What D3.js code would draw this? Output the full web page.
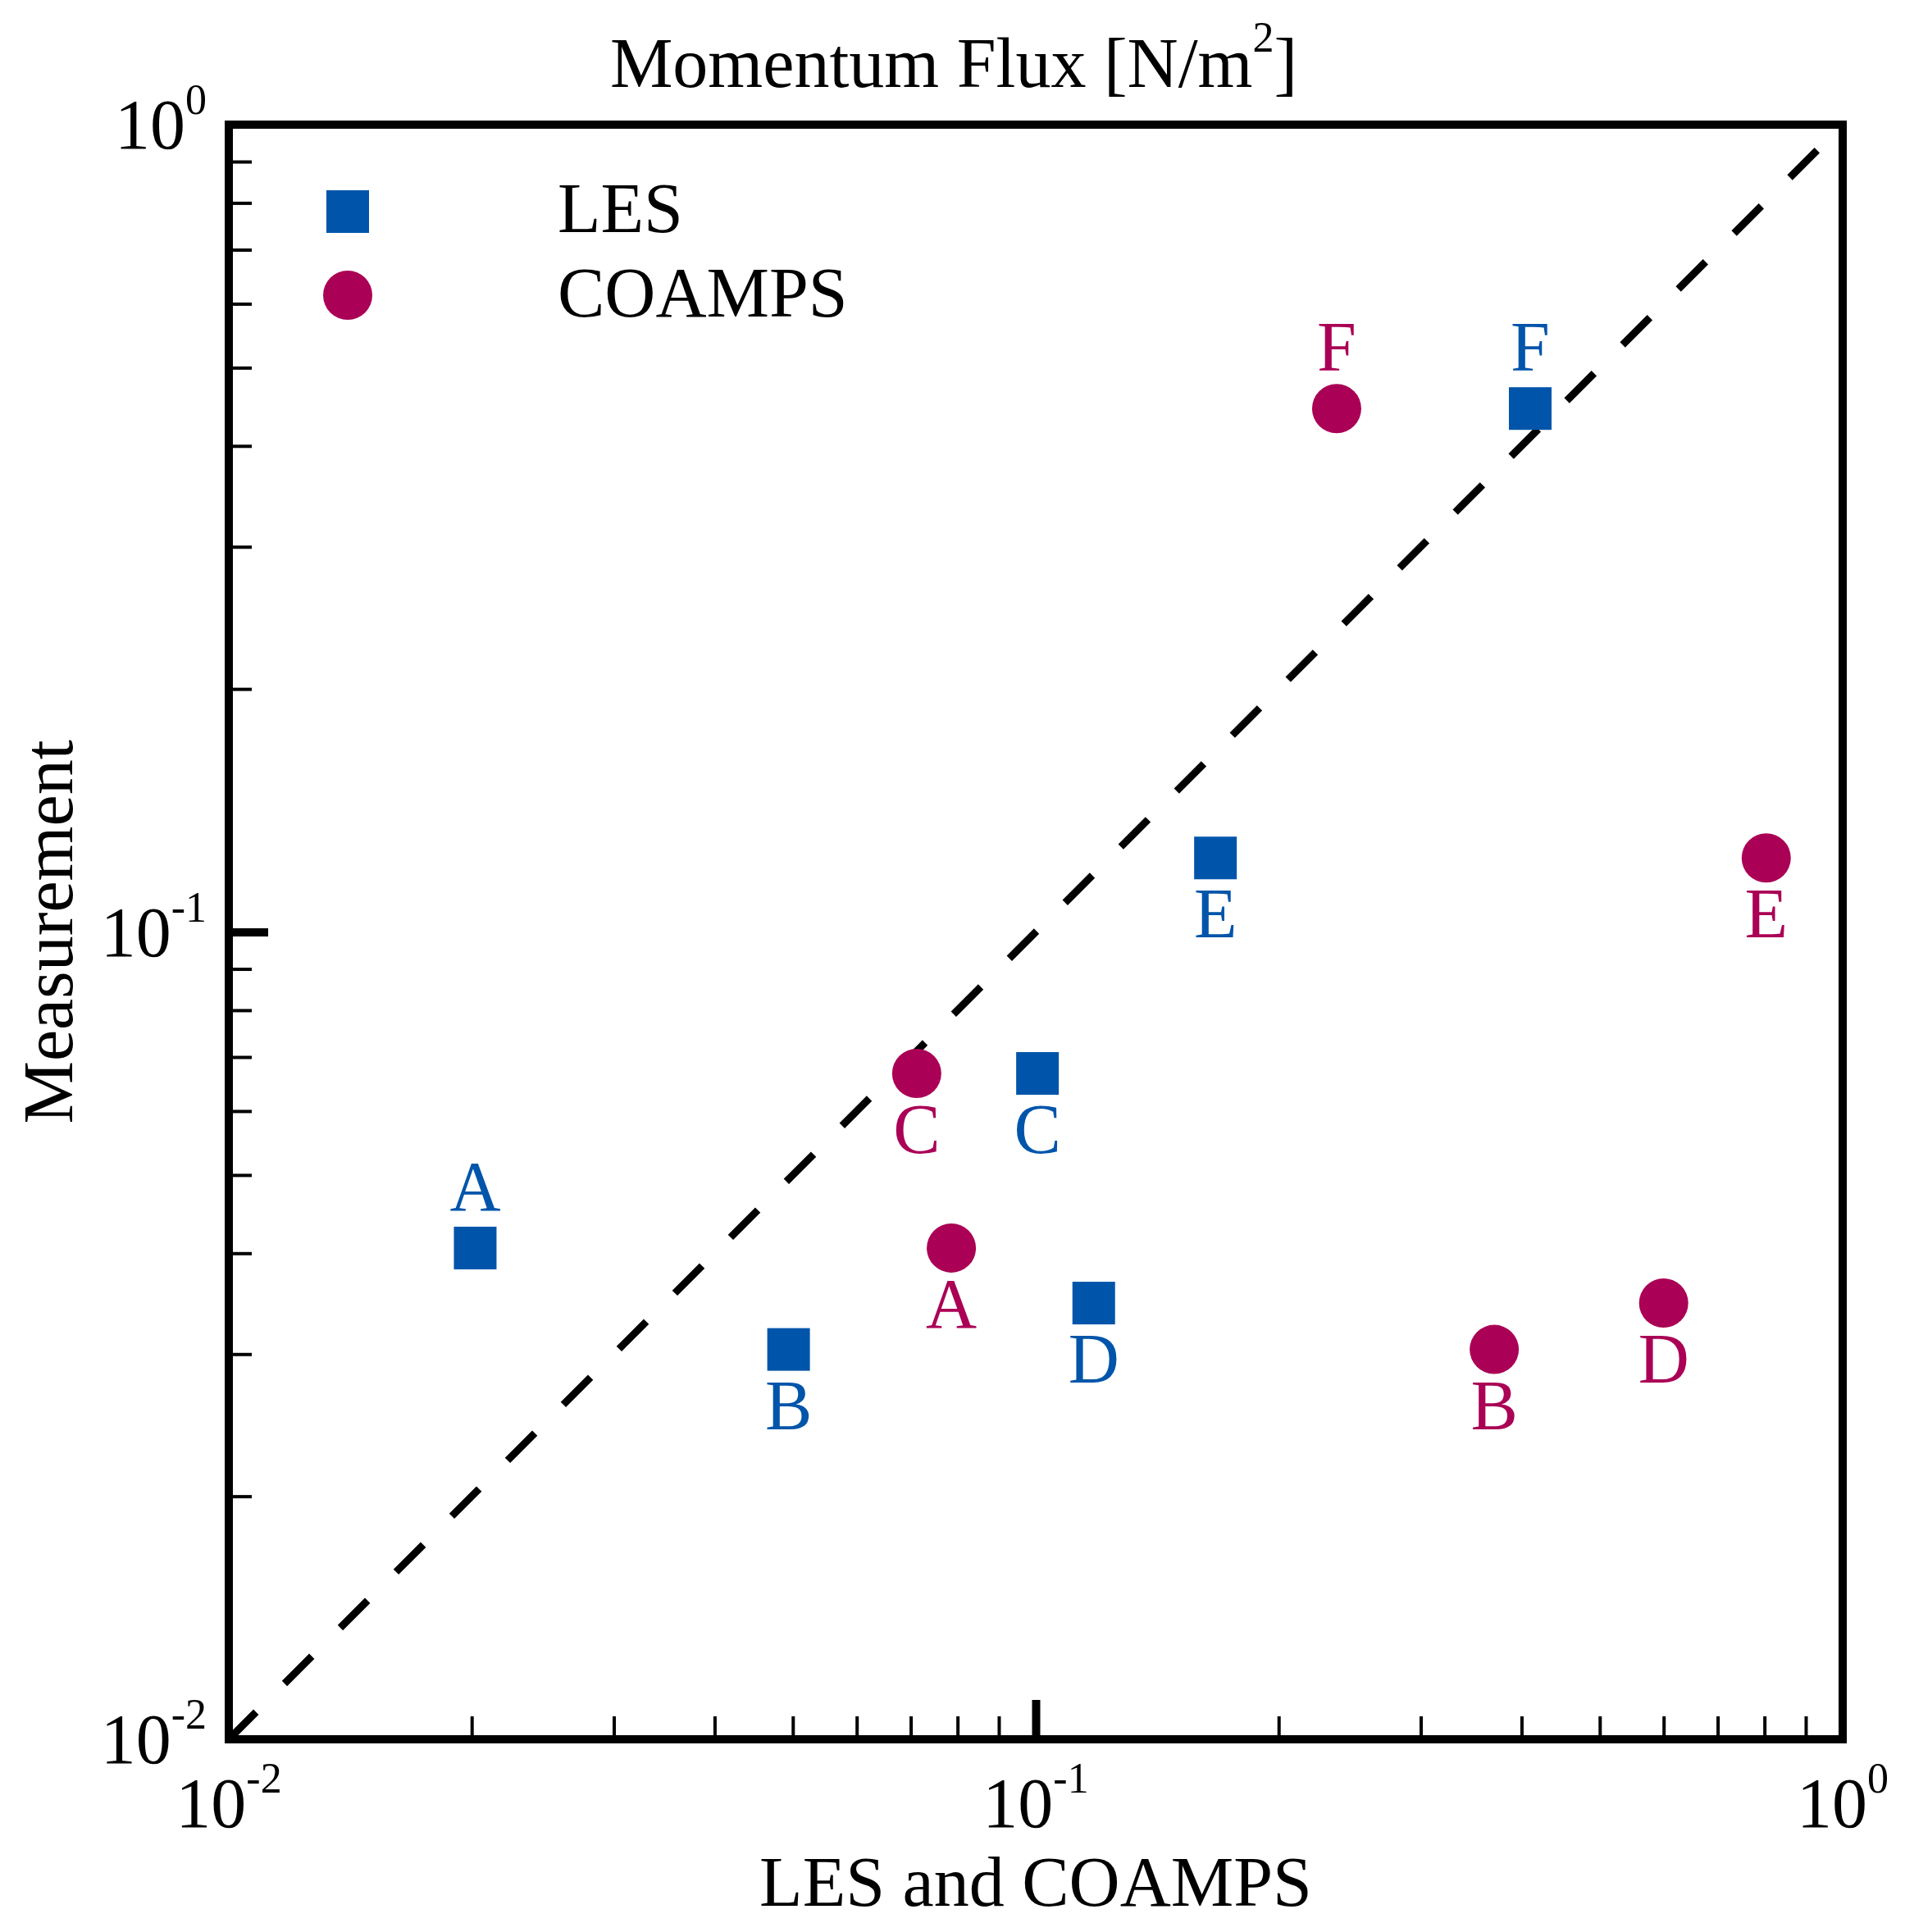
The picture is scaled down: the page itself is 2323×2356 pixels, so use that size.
<!DOCTYPE html>
<html>
<head>
<meta charset="utf-8">
<script src="https://cdn.jsdelivr.net/npm/d3@7"></script>
<style>
  body { margin: 0; background: #fff; }
  text { font-family: "Liberation Serif", "Times New Roman", serif; }
</style>
</head>
<body>
<div id="vis"></div>
<script>
// cases and values
const cases = ["A", "B", "C", "D", "E", "F"];
const measurement = [0.0406, 0.0304, 0.0668, 0.0347, 0.1235, 0.445];
const lesValues = [0.0202, 0.0494, 0.1005, 0.118, 0.167, 0.41];
const coampsValues = [0.0786, 0.370, 0.0712, 0.600, 0.804, 0.236];
const lesLabelSide = ["above", "below", "below", "below", "below", "above"];
const coampsLabelSide = ["below", "below", "below", "below", "below", "above"];

const majorTicks = [0.01, 0.1, 1];
const tickExponents = ["-2", "-1", "0"];
const minorTicks = [0.02, 0.03, 0.04, 0.05, 0.06, 0.07, 0.08, 0.09,
                    0.2, 0.3, 0.4, 0.5, 0.6, 0.7, 0.8, 0.9];

const seriesNames = ["LES", "COAMPS"];
const BLUE = "#0055AA";
const PURPLE = "#AA0055";

const FRAME_WIDTH = 2323;
const FRAME_HEIGHT = 2356;
const PLOT = {left: 279, right: 2247, top: 152, bottom: 2121};
const FONT = 86;
const SUP = 52;

const svg = d3.select("#vis")
    .append("svg")
        .attr("width", FRAME_WIDTH)
        .attr("height", FRAME_HEIGHT);

const X_SCALE = d3.scaleLog().domain([0.01, 1]).range([PLOT.left, PLOT.right]);
const Y_SCALE = d3.scaleLog().domain([0.01, 1]).range([PLOT.bottom, PLOT.top]);

// minor + major ticks pointing inward
function tickAxis(axis, translate, size, width) {
    const g = svg.append("g")
        .attr("transform", translate)
        .call(axis.tickSize(size).tickFormat(""));
    g.select(".domain").remove();
    g.selectAll(".tick line").attr("stroke", "#000").attr("stroke-width", width);
}
tickAxis(d3.axisBottom(X_SCALE).tickValues(minorTicks), "translate(0," + PLOT.bottom + ")", -28, 4);
tickAxis(d3.axisBottom(X_SCALE).tickValues([0.1]), "translate(0," + PLOT.bottom + ")", -48, 10);
tickAxis(d3.axisLeft(Y_SCALE).tickValues(minorTicks), "translate(" + PLOT.left + ",0)", -28, 4);
tickAxis(d3.axisLeft(Y_SCALE).tickValues([0.1]), "translate(" + PLOT.left + ",0)", -48, 10);

// diagonal 1:1 line
svg.append("line")
    .attr("x1", X_SCALE(0.01)).attr("y1", Y_SCALE(0.01))
    .attr("x2", X_SCALE(1)).attr("y2", Y_SCALE(1))
    .attr("stroke", "#000")
    .attr("stroke-width", 9)
    .attr("stroke-dasharray", "47,49.17");

// frame
svg.append("rect")
    .attr("x", PLOT.left).attr("y", PLOT.top)
    .attr("width", PLOT.right - PLOT.left)
    .attr("height", PLOT.bottom - PLOT.top)
    .attr("fill", "none")
    .attr("stroke", "#000")
    .attr("stroke-width", 10);

// power-of-ten tick labels
function powerLabel(x, y, exp, anchor) {
    const t = svg.append("text")
        .attr("x", x).attr("y", y)
        .attr("text-anchor", anchor)
        .attr("font-size", FONT);
    t.append("tspan").text("10");
    t.append("tspan").attr("dy", -42).attr("font-size", SUP).text(exp);
}
majorTicks.forEach((v, i) => {
    powerLabel(X_SCALE(v), 2228, tickExponents[i], "middle");
    powerLabel(252, Y_SCALE(v) + 29, tickExponents[i], "end");
});

// title
const title = svg.append("text")
    .attr("x", 1163).attr("y", 106)
    .attr("text-anchor", "middle")
    .attr("font-size", FONT);
title.append("tspan").text("Momentum Flux [N/m");
title.append("tspan").attr("dy", -43).attr("font-size", SUP).text("2");
title.append("tspan").attr("dy", 43).text("]");

// axis titles
svg.append("text")
    .attr("x", (PLOT.left + PLOT.right) / 2).attr("y", 2324)
    .attr("text-anchor", "middle")
    .attr("font-size", FONT)
    .text("LES and COAMPS");

svg.append("text")
    .attr("transform", "translate(88," + (PLOT.top + PLOT.bottom) / 2 + ") rotate(-90)")
    .attr("text-anchor", "middle")
    .attr("font-size", FONT)
    .text("Measurement");

// points
const SQ = 52;
const R = 30;
function labelY(d, side) {
    return side === "above" ? Y_SCALE(d) - 46 : Y_SCALE(d) + 97;
}

const les = svg.append("g");
les.selectAll("rect")
    .data(cases)
    .enter()
    .append("rect")
        .attr("x", (d, i) => X_SCALE(lesValues[i]) - SQ / 2)
        .attr("y", (d, i) => Y_SCALE(measurement[i]) - SQ / 2)
        .attr("width", SQ)
        .attr("height", SQ)
        .attr("fill", BLUE);
les.selectAll("text")
    .data(cases)
    .enter()
    .append("text")
        .attr("x", (d, i) => X_SCALE(lesValues[i]))
        .attr("y", (d, i) => labelY(measurement[i], lesLabelSide[i]))
        .attr("text-anchor", "middle")
        .attr("font-size", FONT)
        .attr("fill", BLUE)
        .text((d) => d);

const coamps = svg.append("g");
coamps.selectAll("circle")
    .data(cases)
    .enter()
    .append("circle")
        .attr("cx", (d, i) => X_SCALE(coampsValues[i]))
        .attr("cy", (d, i) => Y_SCALE(measurement[i]))
        .attr("r", R)
        .attr("fill", PURPLE);
coamps.selectAll("text")
    .data(cases)
    .enter()
    .append("text")
        .attr("x", (d, i) => X_SCALE(coampsValues[i]))
        .attr("y", (d, i) => labelY(measurement[i], coampsLabelSide[i]))
        .attr("text-anchor", "middle")
        .attr("font-size", FONT)
        .attr("fill", PURPLE)
        .text((d) => d);

// legend
const legend = svg.append("g");
legend.append("rect")
    .attr("x", 424 - SQ / 2).attr("y", 258 - SQ / 2)
    .attr("width", SQ).attr("height", SQ)
    .attr("fill", BLUE);
legend.append("circle")
    .attr("cx", 424).attr("cy", 360).attr("r", R)
    .attr("fill", PURPLE);
legend.selectAll("text")
    .data(seriesNames)
    .enter()
    .append("text")
        .attr("x", 680)
        .attr("y", (d, i) => 283 + i * 103)
        .attr("font-size", FONT)
        .text((d) => d);
</script>
</body>
</html>
